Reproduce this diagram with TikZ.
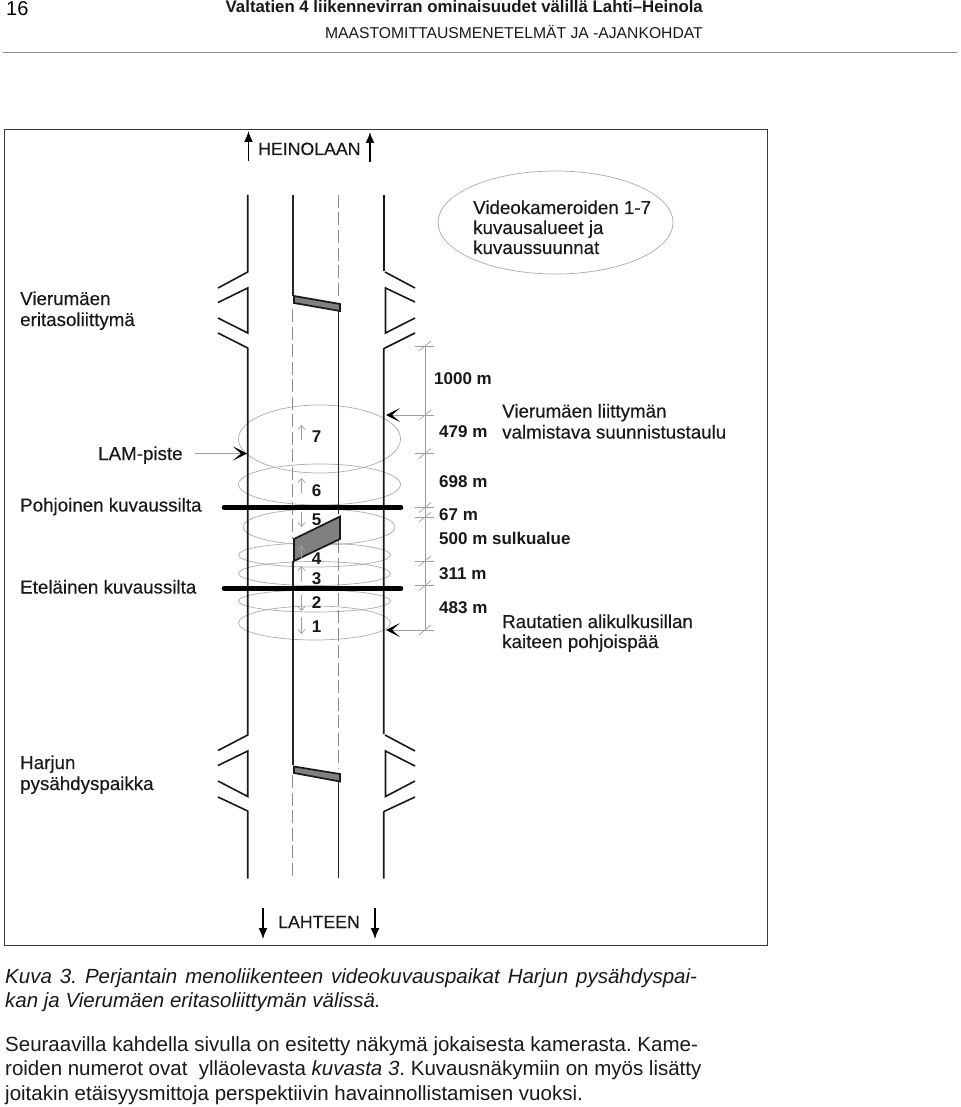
\documentclass[tikz,border=0pt]{standalone}
\usepackage{fontspec}
\setmainfont{Liberation Sans}
\newfontfamily\semibf[FakeBold=0.3]{Liberation Sans}
\usetikzlibrary{arrows.meta}
\newcommand{\fsz}[1]{\fontsize{#1}{#1}\selectfont}
\tikzset{
 road/.style={line width=1.6pt,black!90},
 lane/.style={line width=1.6pt,black!85,line cap=butt},
 dashlane/.style={line width=0.9pt,black!45,dash pattern=on 13pt off 4.5pt},
 thick bar/.style={line width=4.5pt,black,line cap=round},
 gate/.style={draw=black!90,line width=1.7pt,fill=black!50},
 view/.style={draw=black!33,line width=0.7pt},
 dim/.style={draw=black!38,line width=0.7pt},
 small/.style={draw=black!38,line width=0.7pt,-{Straight Barb[length=4pt,width=7pt]}},
 big/.style={line width=1.5pt,black,-{Latex[length=11pt,width=9pt]}},
 point/.style={draw=black!38,line width=0.7pt,-{Stealth[black,length=14pt,width=14pt,inset=8pt]}},
 lab/.style={font=\fsz{18.75}\semibf,anchor=base west,inner sep=0pt,text=black!90},
 dirlab/.style={font=\fsz{17.7}\semibf,anchor=base west,inner sep=0pt,text=black!90},
 blab/.style={font=\fsz{17}\bfseries,anchor=base west,inner sep=0pt,text=black!90},
 num/.style={font=\fsz{17}\bfseries,anchor=base,inner sep=0pt,text=black!90},
 body/.style={font=\fsz{20.5},anchor=base west,inner sep=0pt,text=black!90},
}
\newcommand{\tick}[1]{\draw[dim] (415,#1) -- (434,#1); \draw[dim] (419,#1+5) -- (431,#1-5);}
\begin{document}
\frenchspacing
\begin{tikzpicture}[x=1pt,y=-1pt]
\useasboundingbox (0,0) rectangle (960,1107);
% header
\node[font=\fsz{20},anchor=base west,inner sep=0pt] (pg) at (6,16) {16};
\node[font=\fsz{16.8}\bfseries,anchor=base east,inner sep=0pt,text=black!90] (h1) at (703,12.5) {Valtatien 4 liikennevirran ominaisuudet välillä Lahti–Heinola};
\node[font=\fsz{15.7},anchor=base east,inner sep=0pt,text=black!90] (h2) at (703,39) {MAASTOMITTAUSMENETELMÄT JA -AJANKOHDAT};
\draw[black!45,line width=1pt] (3,53) -- (957,53);
% frame
\draw[black!78,line width=0.9pt] (4,129) rectangle (767,945);
% ellipse views
\draw[view] (319.5,439) ellipse [x radius=81,y radius=34];
\draw[view] (319.5,484.5) ellipse [x radius=81,y radius=20.5];
\draw[view] (319,527) ellipse [x radius=76,y radius=18];
\draw[view] (314.5,555) ellipse [x radius=76,y radius=12];
\draw[view] (314.5,573.5) ellipse [x radius=76,y radius=12];
\draw[view] (314.5,601) ellipse [x radius=76,y radius=11];
\draw[view] (314.5,623) ellipse [x radius=76,y radius=17];
\draw[view] (555.5,222.5) ellipse [x radius=117.5,y radius=51.5];
% left road edge
\draw[road] (247.7,195) -- (247.7,272) -- (218,288);
\draw[road] (218,302.5) -- (247.7,288) -- (247.7,333) -- (218,318);
\draw[road] (218,333) -- (247.7,348) -- (247.7,735) -- (218,750.5);
\draw[road] (218,765.5) -- (247.7,751) -- (247.7,796.5) -- (218,781);
\draw[road] (218,797) -- (247.7,811) -- (247.7,878.6);
% right road edge
\draw[road] (383.7,195) -- (383.7,271);
\draw[road] (385,272) -- (415,288);
\draw[road] (415,302) -- (385.5,288) -- (385.5,333) -- (415,318);
\draw[road] (415,333) -- (385,348) -- (383.7,349) -- (383.7,734);
\draw[road] (385,735) -- (415,751);
\draw[road] (415,766) -- (385.5,751) -- (385.5,796.5) -- (415,781);
\draw[road] (415,797) -- (385,811) -- (383.7,812) -- (383.7,878.6);
% centre lines
\draw[lane] (292.7,195) -- (292.7,296);
\draw[dashlane] (292.7,309) -- (292.7,539);
\draw[lane] (292.7,561) -- (292.7,765);
\draw[dashlane] (292.7,775) -- (292.7,878);
\draw[dashlane] (338.3,195) -- (338.3,298);
\draw[lane] (338.3,311) -- (338.3,514);
\draw[dashlane] (338.3,540) -- (338.3,768);
\draw[lane] (338.3,781) -- (338.3,878);
% gates
\draw[gate] (294,296) -- (340,304) -- (340,311) -- (294,303) -- cycle;
\draw[gate] (294,539) -- (340,516.5) -- (340,539) -- (294,561) -- cycle;
\draw[gate] (294,766.5) -- (340,774) -- (340,781.5) -- (294,773) -- cycle;
% bridges
\draw[thick bar] (224,507.5) -- (401,507.5);
\draw[thick bar] (224,588.5) -- (401,588.5);
% small direction arrows
\draw[small] (301.5,440) -- (301.5,425);
\draw[small] (301.5,493) -- (301.5,478);
\draw[small] (301.5,512) -- (301.5,527);
\draw[small] (301.5,558) -- (301.5,546);
\draw[small] (301.5,582) -- (301.5,566);
\draw[small] (301.5,595) -- (301.5,611);
\draw[small] (301.5,617) -- (301.5,634);
% numbers
\node[num] (n7) at (316.7,442) {7};
\node[num] (n6) at (316.7,496) {6};
\node[num] (n5) at (316.7,525.5) {5};
\node[num] (n4) at (316.7,564) {4};
\node[num] (n3) at (316.7,584) {3};
\node[num] (n2) at (316.7,608) {2};
\node[num] (n1) at (316.7,632.7) {1};
% dimension line
\coordinate (dt) at (425,346);
\coordinate (db) at (425,630);
\draw[dim] (dt) -- (db);
\tick{346}\tick{415}\tick{453.5}\tick{507.5}\tick{517}\tick{561}\tick{585.5}\tick{630}
% pointers
\coordinate (a1s) at (425,415); \coordinate (a1e) at (386,415);
\coordinate (a2s) at (425,630); \coordinate (a2e) at (386,630);
\coordinate (a3s) at (195,453.5); \coordinate (a3e) at (247,453.5);
\draw[point] (a1s) -- (a1e);
\draw[point] (a2s) -- (a2e);
\draw[point] (a3s) -- (a3e);
% direction arrows
\coordinate (u1s) at (248.5,161); \coordinate (u1e) at (248.5,131);
\coordinate (u2s) at (370,162); \coordinate (u2e) at (370,132);
\coordinate (d1s) at (263,908); \coordinate (d1e) at (263,939);
\coordinate (d2s) at (375,908); \coordinate (d2e) at (375,939);
\draw[big] (u1s) -- (u1e);
\draw[big] (u2s) -- (u2e);
\draw[big] (d1s) -- (d1e);
\draw[big] (d2s) -- (d2e);
\node[dirlab] (hein) at (258,155) {HEINOLAAN};
\node[dirlab] (laht) at (278,928) {LAHTEEN};
% labels
\node[lab] (v1) at (473,214) {Videokameroiden 1-7};
\node[lab] (v2) at (473,234) {kuvausalueet ja};
\node[lab] (v3) at (473,254) {kuvaussuunnat};
\node[lab] (e1) at (20,305) {Vierumäen};
\node[lab] (e2) at (20,326) {eritasoliittymä};
\node[lab] (lam) at (98,460) {LAM-piste};
\node[lab] (pk) at (20,511.5) {Pohjoinen kuvaussilta};
\node[lab] (ek) at (20,593.5) {Eteläinen kuvaussilta};
\node[blab] (m1000) at (434,384) {1000 m};
\node[blab] (m479) at (439,437) {479 m};
\node[blab] (m698) at (439,487) {698 m};
\node[blab] (m67) at (439,520) {67 m};
\node[blab] (m500) at (439,544) {500 m sulkualue};
\node[blab] (m311) at (439,579) {311 m};
\node[blab] (m483) at (439,613) {483 m};
\node[lab] (vl1) at (502,417.5) {Vierumäen liittymän};
\node[lab] (vl2) at (502,438.5) {valmistava suunnistustaulu};
\node[lab] (r1) at (502,628) {Rautatien alikulkusillan};
\node[lab] (r2) at (502,648) {kaiteen pohjoispää};
\node[lab] (h1b) at (20,769) {Harjun};
\node[lab] (h2b) at (20,790) {pysähdyspaikka};
% caption
\node[body] (c1) at (5,983) {\spaceskip=8pt\itshape Kuva 3. Perjantain menoliikenteen videokuvauspaikat Harjun pysähdyspai-};
\node[body] (c2) at (5,1007) {\itshape kan ja Vierumäen eritasoliittymän välissä.};
\node[body] (c3) at (5,1051) {Seuraavilla kahdella sivulla on esitetty näkymä jokaisesta kamerasta. Kame-};
\node[body] (c4) at (5,1075) {roiden numerot ovat\ \ ylläolevasta \textit{kuvasta 3}. Kuvausnäkymiin on myös lisätty};
\node[body] (c5) at (5,1100) {joitakin etäisyysmittoja perspektiivin havainnollistamisen vuoksi.};
\end{tikzpicture}
\end{document}
